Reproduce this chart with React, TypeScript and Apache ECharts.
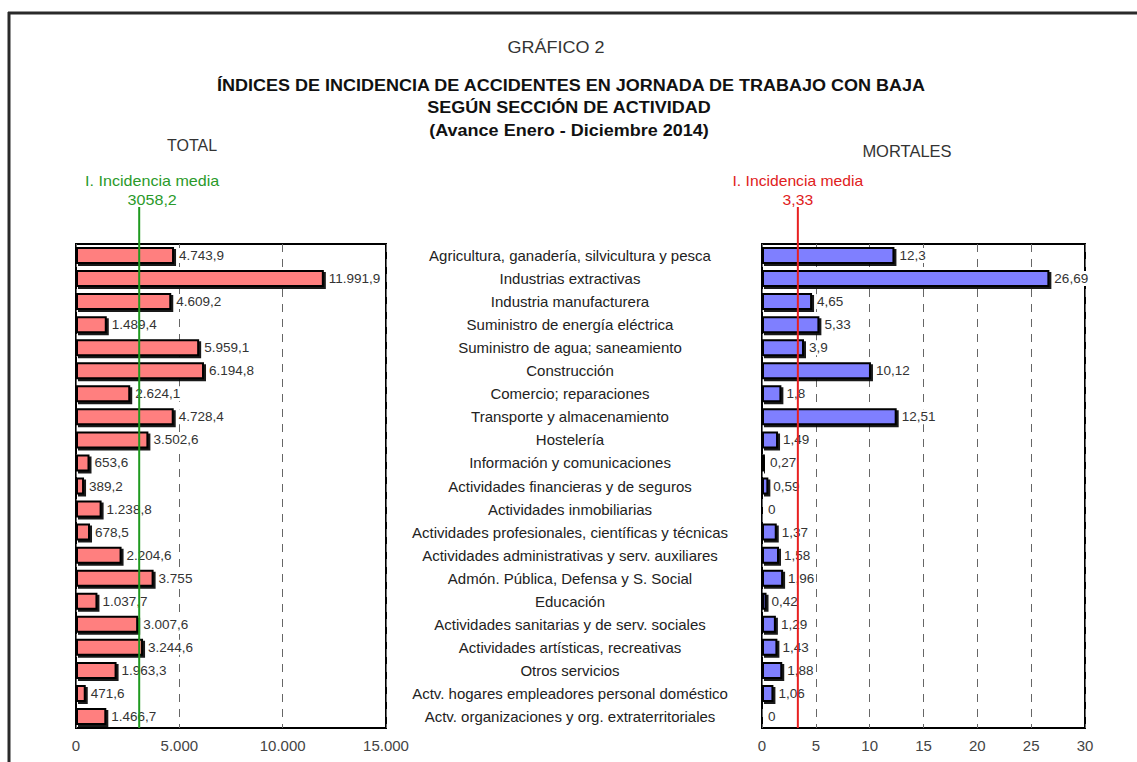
import React, { useEffect, useRef } from "react";
import * as echarts from "echarts";

const categories = [
  "Agricultura, ganadería, silvicultura y pesca",
  "Industrias extractivas",
  "Industria manufacturera",
  "Suministro de energía eléctrica",
  "Suministro de agua; saneamiento",
  "Construcción",
  "Comercio; reparaciones",
  "Transporte y almacenamiento",
  "Hostelería",
  "Información y comunicaciones",
  "Actividades financieras y de seguros",
  "Actividades inmobiliarias",
  "Actividades profesionales, científicas y técnicas",
  "Actividades administrativas y serv. auxiliares",
  "Admón. Pública, Defensa y S. Social",
  "Educación",
  "Actividades sanitarias y de serv. sociales",
  "Actividades artísticas, recreativas",
  "Otros servicios",
  "Actv. hogares empleadores personal doméstico",
  "Actv. organizaciones y org. extraterritoriales",
];

const totalValues = [
  4743.9, 11991.9, 4609.2, 1489.4, 5959.1, 6194.8, 2624.1, 4728.4, 3502.6, 653.6,
  389.2, 1238.8, 678.5, 2204.6, 3755, 1037.7, 3007.6, 3244.6, 1963.3, 471.6, 1466.7,
];

const mortalValues = [
  12.3, 26.69, 4.65, 5.33, 3.9, 10.12, 1.8, 12.51, 1.49, 0.27, 0.59, 0, 1.37, 1.58,
  1.96, 0.42, 1.29, 1.43, 1.88, 1.06, 0,
];

const totalMean = 3058.2;
const mortalMean = 3.33;
const totalAxis = { min: 0, max: 15000, interval: 5000 };
const mortalAxis = { min: 0, max: 30, interval: 5 };

const FONT = "'Liberation Sans', Arial, Helvetica, sans-serif";

function fmtTotal(v: number): string {
  const [i, d] = String(v).split(".");
  const ip = i.replace(/\B(?=(\d{3})+(?!\d))/g, ".");
  return d ? ip + "," + d : ip;
}
function fmtDecimal(v: number): string {
  return String(v).replace(".", ",");
}

const GRID_TOP = 244;
const GRID_H = 484;

export default function App() {
  const ref = useRef<HTMLDivElement>(null);

  useEffect(() => {
    document.body.style.margin = "0";
    if (!ref.current) return;
    const chart = echarts.init(ref.current, undefined, { renderer: "svg" });

    const barStyle = (color: string) => ({
      color,
      borderColor: "#000",
      borderWidth: 2,
      shadowColor: "rgba(0,0,0,0.9)",
      shadowOffsetX: 2,
      shadowOffsetY: 2,
      shadowBlur: 0,
    });

    const valueLabel = (fmt: (v: number) => string) => ({
      show: true,
      position: "right",
      distance: 4,
      formatter: (p: any) => fmt(p.value),
      color: "#333",
      fontSize: 13.5,
      fontFamily: FONT,
      backgroundColor: "#fff",
      padding: [1, 1, 0, 1],
    });

    const splitLine = {
      show: true,
      lineStyle: { color: "#666", width: 1, type: [8, 7] as any },
    };

    const xLabel = (fmt: (v: number) => string) => ({
      color: "#444",
      fontSize: 15,
      fontFamily: FONT,
      margin: 10,
      formatter: (v: number) => fmt(v),
    });

    chart.setOption({
      animation: false,
      backgroundColor: "#fff",
      textStyle: { fontFamily: FONT },
      grid: [
        {
          left: 76,
          width: 310,
          top: GRID_TOP,
          height: GRID_H,
          show: true,
          borderColor: "#000",
          borderWidth: 2,
          backgroundColor: "transparent",
        },
        {
          left: 762,
          width: 323,
          top: GRID_TOP,
          height: GRID_H,
          show: true,
          borderColor: "#000",
          borderWidth: 2,
          backgroundColor: "transparent",
        },
      ],
      xAxis: [
        {
          type: "value",
          gridIndex: 0,
          ...totalAxis,
          axisLine: { show: false },
          axisTick: { show: false },
          splitLine,
          axisLabel: xLabel(fmtTotal),
        },
        {
          type: "value",
          gridIndex: 1,
          ...mortalAxis,
          axisLine: { show: false },
          axisTick: { show: false },
          splitLine,
          axisLabel: xLabel(fmtDecimal),
        },
      ],
      yAxis: [
        {
          type: "category",
          gridIndex: 0,
          data: categories,
          inverse: true,
          axisLine: { show: false },
          axisTick: { show: false },
          axisLabel: { show: false },
        },
        {
          type: "category",
          gridIndex: 1,
          data: categories,
          inverse: true,
          axisLine: { show: false },
          axisTick: { show: false },
          axisLabel: {
            show: true,
            align: "center",
            margin: 192,
            color: "#222",
            fontSize: 15,
            fontFamily: FONT,
          },
        },
      ],
      series: [
        {
          type: "bar",
          xAxisIndex: 0,
          yAxisIndex: 0,
          data: totalValues,
          barWidth: 17,
          itemStyle: barStyle("#FF7F7F"),
          label: valueLabel(fmtTotal),
          z: 3,
        },
        {
          type: "bar",
          xAxisIndex: 1,
          yAxisIndex: 1,
          data: mortalValues,
          barWidth: 17,
          itemStyle: barStyle("#7F7FFF"),
          label: valueLabel(fmtDecimal),
          z: 3,
        },
      ],
    });

    const gx = chart.convertToPixel({ xAxisIndex: 0 }, totalMean) as number;
    const rx = chart.convertToPixel({ xAxisIndex: 1 }, mortalMean) as number;
    const bottom = GRID_TOP + GRID_H;

    const txt = (
      x: number,
      y: number,
      text: string,
      size: number,
      color: string,
      weight: string = "normal",
      scaleX = 1
    ) => ({
      type: "text",
      x,
      y,
      z: 5,
      scaleX,
      silent: true,
      style: {
        text,
        fontSize: size,
        fontWeight: weight,
        fontFamily: FONT,
        fill: color,
        align: "center",
        verticalAlign: "middle",
      },
    });

    chart.setOption({
      graphic: [
        {
          type: "line",
          z: 20,
          silent: true,
          shape: { x1: 8, y1: 13, x2: 1137, y2: 13 },
          style: { stroke: "#2a2a2a", lineWidth: 3 },
        },
        {
          type: "line",
          z: 20,
          silent: true,
          shape: { x1: 9, y1: 12, x2: 9, y2: 762 },
          style: { stroke: "#2a2a2a", lineWidth: 3 },
        },
        txt(556, 47, "GRÁFICO 2", 17, "#333", "normal", 1.06),
        txt(571, 85, "ÍNDICES DE INCIDENCIA DE ACCIDENTES EN JORNADA DE TRABAJO CON BAJA", 17, "#111", "bold", 1.06),
        txt(569, 107, "SEGÚN SECCIÓN DE ACTIVIDAD", 17, "#111", "bold", 1.06),
        txt(569, 130, "(Avance Enero - Diciembre 2014)", 17, "#111", "bold", 1.06),
        txt(192, 145, "TOTAL", 16, "#333"),
        txt(907, 151, "MORTALES", 16.5, "#333"),
        txt(gx + 13, 181, "I. Incidencia media", 14, "#2a9a2a", "normal", 1.15),
        txt(gx + 13, 200, fmtDecimal(totalMean), 14, "#2a9a2a", "normal", 1.15),
        txt(rx, 181, "I. Incidencia media", 14, "#e02020", "normal", 1.12),
        txt(rx, 200, fmtDecimal(mortalMean), 14, "#e02020", "normal", 1.12),
        {
          type: "line",
          z: 10,
          silent: true,
          shape: { x1: gx, y1: 207, x2: gx, y2: bottom },
          style: { stroke: "#1f9a1f", lineWidth: 2 },
        },
        {
          type: "line",
          z: 10,
          silent: true,
          shape: { x1: rx, y1: 207, x2: rx, y2: bottom },
          style: { stroke: "#e82020", lineWidth: 2 },
        },
      ],
    });

    return () => chart.dispose();
  }, []);

  return <div ref={ref} style={{ width: 1137, height: 762 }} />;
}
